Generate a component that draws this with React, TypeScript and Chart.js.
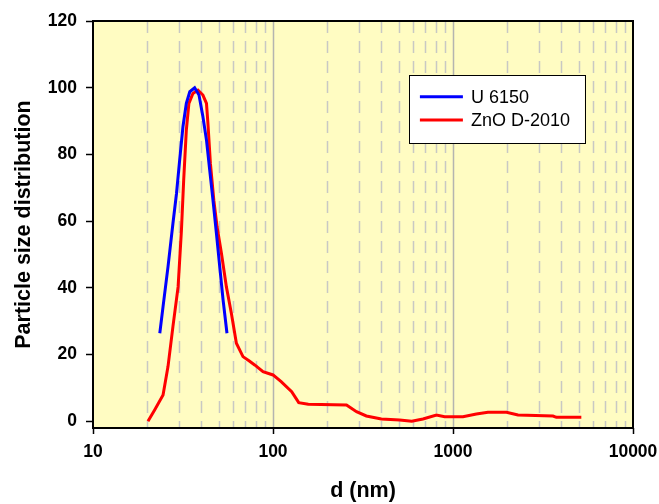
import React, { useEffect, useRef } from "react";
import { Chart, registerables } from "chart.js";
Chart.register(...registerables);

// ---- data ----
const blueD = [23.5, 24.5, 26.1, 27.8, 29.1, 30.3, 31.6, 33.0, 34.5, 36.7, 38.8, 40.8, 42.7, 44.5, 46.4, 48.5, 50.6, 52.8, 55.5];
const blueY = [26.4, 34.4, 46.3, 59.3, 68.3, 78.3, 88.3, 95.3, 98.8, 100, 97.8, 91.3, 84.3, 75.3, 66.3, 56.3, 46.3, 36.4, 26.4];

const redD = [20.2, 22.0, 24.5, 26.1, 27.8, 29.7, 31.0, 31.9, 33.0, 34.1, 35.9, 38.3, 40.8, 42.7, 43.5, 44.9, 46.9, 48.9, 51.7, 55.1, 58.7, 62.6, 68.1, 74.2, 79.1, 88, 100, 111, 127, 139, 157, 256, 291, 330, 400, 505, 590, 681, 809, 899, 1136, 1349, 1563, 1981, 2297, 3594, 3752, 5164];
const redY = [0, 3.4, 7.9, 16.4, 28.4, 40.3, 57.3, 72.3, 87.3, 95.3, 98.3, 99.3, 97.8, 95.3, 89.3, 77.3, 66.3, 58.3, 50.4, 40.3, 32.4, 23.4, 19.4, 18.0, 16.9, 14.9, 13.9, 11.9, 8.9, 5.6, 5.1, 4.9, 2.9, 1.6, 0.7, 0.4, 0, 0.7, 1.9, 1.4, 1.4, 2.2, 2.7, 2.7, 1.9, 1.6, 1.2, 1.2];

const seriesNames = ["U 6150", "ZnO D-2010"];
const seriesColors = ["#0000FF", "#FF0000"];

const xTickValues = [10, 100, 1000, 10000];
const xMajorGrid = [100, 1000];
const xMinorGrid = [20, 30, 40, 50, 60, 70, 80, 90, 200, 300, 400, 500, 600, 700, 800, 900, 2000, 3000, 4000, 5000, 6000, 7000, 8000, 9000];
const yTickValues = [0, 20, 40, 60, 80, 100, 120];

const xTitle = "d (nm)";
const yTitle = "Particle size distribution";

const W = 659;
const H = 504;

export default function App() {
  const ref = useRef<HTMLCanvasElement | null>(null);

  useEffect(() => {
    if (!ref.current) return;

    const bgPlugin = {
      id: "bgPlugin",
      beforeDatasetsDraw(chart: any) {
        const { ctx, chartArea: a, scales } = chart;
        ctx.save();
        ctx.fillStyle = "#FFFCC2";
        ctx.fillRect(a.left, a.top, a.right - a.left, a.bottom - a.top);
        const xs = scales.x;
        ctx.beginPath();
        ctx.rect(a.left, a.top, a.right - a.left, a.bottom - a.top);
        ctx.clip();
        ctx.lineWidth = 1.5;
        ctx.strokeStyle = "#C8C8C4";
        ctx.setLineDash([12, 8]);
        for (const v of xMinorGrid) {
          const px = Math.round(xs.getPixelForValue(v)) + 0.5;
          ctx.beginPath();
          ctx.moveTo(px, a.top);
          ctx.lineTo(px, a.bottom);
          ctx.stroke();
        }
        ctx.setLineDash([]);
        ctx.strokeStyle = "#B4B4B0";
        for (const v of xMajorGrid) {
          const px = Math.round(xs.getPixelForValue(v)) + 0.5;
          ctx.beginPath();
          ctx.moveTo(px, a.top);
          ctx.lineTo(px, a.bottom);
          ctx.stroke();
        }
        ctx.restore();
      },
      afterDatasetsDraw(chart: any) {
        const { ctx, chartArea: a } = chart;
        ctx.save();
        ctx.strokeStyle = "#000";
        ctx.lineWidth = 2;
        ctx.strokeRect(a.left, a.top, a.right - a.left, a.bottom - a.top);
        ctx.restore();
      },
      afterDraw(chart: any) {
        const { ctx, chartArea: a } = chart;
        const w = a.right - a.left;
        const h = a.bottom - a.top;
        const bx = a.left + 0.585 * w;
        const by = a.top + 0.1327 * h;
        const bw = 0.3256 * w;
        const bh = 0.1672 * h;
        ctx.save();
        ctx.fillStyle = "#FFFFFF";
        ctx.fillRect(bx, by, bw, bh);
        ctx.strokeStyle = "#000";
        ctx.lineWidth = 1;
        ctx.strokeRect(Math.round(bx) + 0.5, Math.round(by) + 0.5, Math.round(bw), Math.round(bh));
        ctx.font = "18px 'Liberation Sans', Arial, sans-serif";
        ctx.textBaseline = "middle";
        ctx.textAlign = "left";
        seriesNames.forEach((name, i) => {
          const y = by + 21.7 + i * 23.3;
          ctx.strokeStyle = seriesColors[i];
          ctx.lineWidth = 3;
          ctx.beginPath();
          ctx.moveTo(bx + 11, y);
          ctx.lineTo(bx + 54, y);
          ctx.stroke();
          ctx.fillStyle = "#000";
          ctx.fillText(name, bx + 62, y + 1);
        });
        ctx.restore();
      },
    };

    const fam = "'Liberation Sans', Arial, sans-serif";
    const xTickFont = { family: fam, size: 17.5, weight: "bold" as const, lineHeight: "37px" };
    const yTickFont = { family: fam, size: 17.5, weight: "bold" as const };
    const titleFont = { family: fam, size: 21.5, weight: "bold" as const };

    const chart = new Chart(ref.current, {
      type: "line",
      data: {
        datasets: [
          {
            label: seriesNames[0],
            data: blueD.map((d, i) => ({ x: d, y: blueY[i] })),
            borderColor: seriesColors[0],
            borderWidth: 3,
            pointRadius: 0,
            tension: 0,
            fill: false,
          },
          {
            label: seriesNames[1],
            data: redD.map((d, i) => ({ x: d, y: redY[i] })),
            borderColor: seriesColors[1],
            borderWidth: 3,
            pointRadius: 0,
            tension: 0,
            fill: false,
          },
        ],
      },
      options: {
        animation: false,
        responsive: false,
        maintainAspectRatio: false,
        layout: { padding: { left: 0, top: 21, right: 26, bottom: 0 } },
        plugins: { legend: { display: false }, tooltip: { enabled: false } },
        scales: {
          x: {
            type: "logarithmic",
            min: 10,
            max: 10000,
            afterBuildTicks: (s: any) => {
              s.ticks = xTickValues.map((v) => ({ value: v, major: true }));
            },
            afterFit: (s: any) => {
              s.height = H - 428;
            },
            ticks: {
              autoSkip: false,
              maxRotation: 0,
              padding: 0,
              color: "#000",
              font: xTickFont,
              callback: (v: any) => String(v),
            },
            grid: {
              display: true,
              drawOnChartArea: false,
              drawTicks: true,
              tickLength: 6,
              tickColor: "#000",
              tickWidth: 1.5,
            },
            border: { display: false },
            title: {
              display: true,
              text: xTitle,
              color: "#000",
              font: titleFont,
              padding: { top: 0, bottom: 0 },
            },
          },
          y: {
            type: "linear",
            min: -2,
            max: 120,
            afterBuildTicks: (s: any) => {
              s.ticks = yTickValues.map((v) => ({ value: v }));
            },
            afterFit: (s: any) => {
              s.width = 93;
            },
            ticks: {
              autoSkip: false,
              padding: 9,
              color: "#000",
              font: yTickFont,
              callback: (v: any) => String(v),
            },
            grid: {
              display: true,
              drawOnChartArea: false,
              drawTicks: true,
              tickLength: 7,
              tickColor: "#000",
              tickWidth: 1.5,
            },
            border: { display: false },
            title: {
              display: true,
              text: yTitle,
              color: "#000",
              font: titleFont,
              padding: { top: 11, bottom: 0 },
            },
          },
        },
      },
      plugins: [bgPlugin],
    });

    return () => chart.destroy();
  }, []);

  return (
    <div style={{ position: "absolute", left: 0, top: 0, width: W, height: H, background: "#fff" }}>
      <canvas ref={ref} width={W} height={H} style={{ width: W, height: H, display: "block" }} />
    </div>
  );
}
